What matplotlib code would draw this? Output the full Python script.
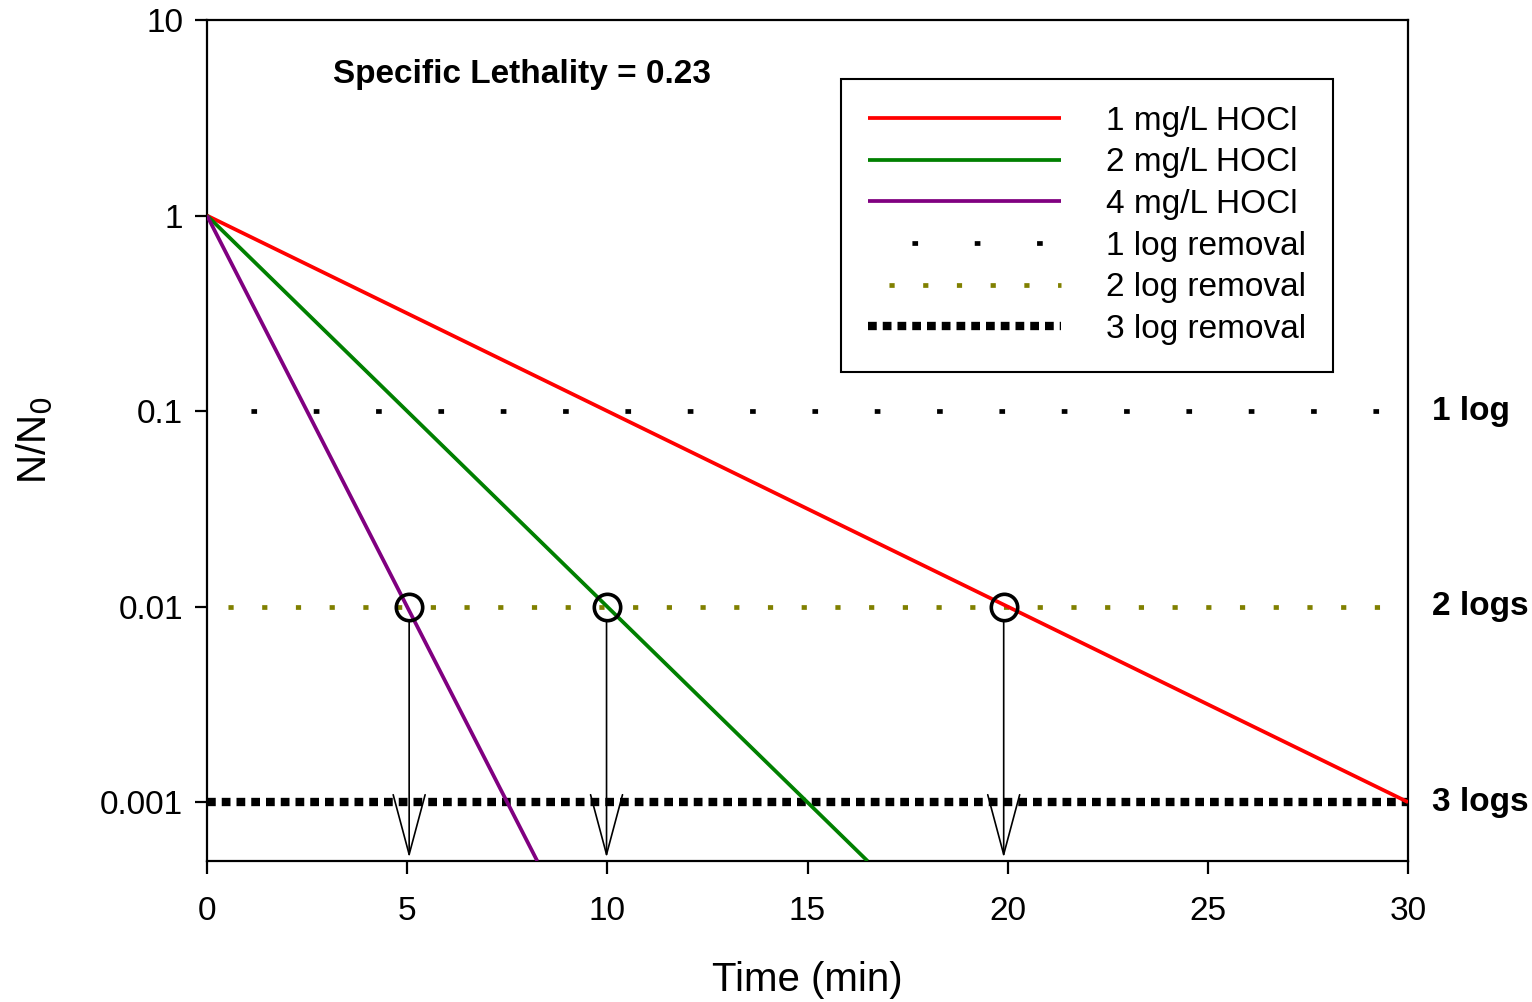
import matplotlib
matplotlib.use("Agg")
import matplotlib.pyplot as plt

plt.rcParams["font.family"] = ["Liberation Sans", "DejaVu Sans"]

# ── data ─────────────────────────────────────────
labels = ["1 mg/L HOCl", "2 mg/L HOCl", "4 mg/L HOCl"]
colors = ["#FF0000", "#008000", "#800080"]
t_lines = [[0, 30], [0, 16.5], [0, 8.25]]
n_lines = [[1, 0.001], [1, 0.0005], [1, 0.0005]]

removal_labels = ["1 log removal", "2 log removal", "3 log removal"]
removal_levels = [0.1, 0.01, 0.001]
removal_text = ["1 log", "2 logs", "3 logs"]

circle_t = [5.05, 9.98, 19.9]
circle_n = [0.01, 0.01, 0.01]

x_ticks = [0, 5, 10, 15, 20, 25, 30]
y_ticks = [0.001, 0.01, 0.1, 1, 10]
y_ticklabels = ["0.001", "0.01", "0.1", "1", "10"]

fig = plt.figure(figsize=(15.32, 10.02), dpi=100)
ax = fig.add_axes([0.1351, 0.1407, 0.9191 - 0.1351, 0.98 - 0.1407])
ax.set_yscale("log")
ax.set_xlim(0, 30)
ax.set_ylim(0.0005, 10)

LW = 2.7
for t, n, c, lab in zip(t_lines, n_lines, colors, labels):
    ax.plot(t, n, color=c, lw=LW, label=lab, solid_capstyle="butt", zorder=3)

# removal reference lines
styles = [
    dict(color="black", lw=3.4, linestyle=(3.9, (1.2, 12.0))),
    dict(color="#808000", lw=3.4, linestyle=(2.7, (1.1, 6.04))),
    dict(color="black", lw=6.0, linestyle=(0, (1.05, 0.72))),
]
for lvl, lab, st in zip(removal_levels, removal_labels, styles):
    ax.plot([0, 30], [lvl, lvl], label=lab, zorder=2, **st)

# circles + arrows
ax.plot(circle_t, circle_n, "o", ms=19, mfc="none", mec="black", mew=2.6,
        zorder=5, label="_nolegend_")
for t, n in zip(circle_t, circle_n):
    ax.annotate("", xy=(t, 0.00052), xytext=(t, n),
                arrowprops=dict(arrowstyle="->,head_length=43,head_width=11.5",
                                mutation_scale=1, color="black", lw=1.2,
                                shrinkA=10, shrinkB=0),
                zorder=4)

# right-hand labels
for lvl, txt in zip(removal_levels, removal_text):
    ax.text(1.02, lvl, txt, transform=ax.get_yaxis_transform(),
            fontsize=24, fontweight="bold", va="center", ha="left")

ax.text(0.105, 0.935, "Specific Lethality = 0.23", transform=ax.transAxes,
        fontsize=24, fontweight="bold", va="center", ha="left")

ax.set_xticks(x_ticks)
ax.set_yticks(y_ticks)
ax.set_yticklabels(y_ticklabels)
ax.minorticks_off()
ax.tick_params(direction="out", length=9, width=1.6, labelsize=24)
ax.tick_params(axis="x", pad=16)
ax.tick_params(axis="y", pad=8)
for sp in ax.spines.values():
    sp.set_linewidth(1.6)

ax.set_xlabel("Time (min)", fontsize=29, labelpad=25)
ax.set_ylabel("N/N$_0$", fontsize=29, labelpad=33)

leg = ax.legend(loc="upper right", bbox_to_anchor=(0.9375, 0.930),
                fontsize=24, frameon=True, fancybox=False, framealpha=1,
                edgecolor="black", handlelength=5.8, handletextpad=1.35,
                labelspacing=0.32, borderpad=0.8, borderaxespad=0)
leg.get_frame().set_linewidth(1.5)

fig.savefig("out.png", dpi=100, facecolor="white")
